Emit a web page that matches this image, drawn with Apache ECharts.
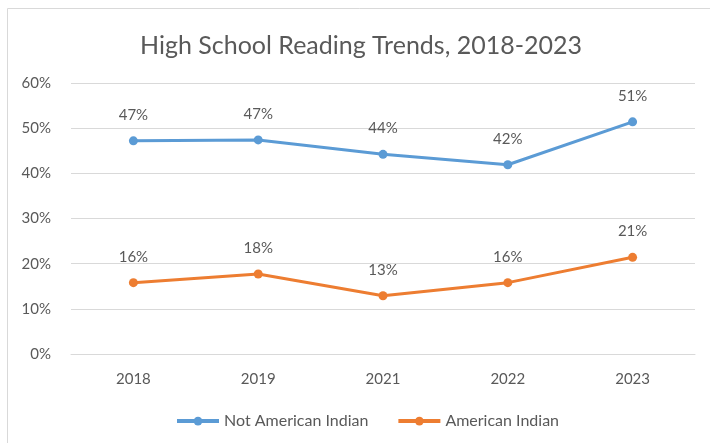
<html>
<head>
    <script src="https://cdn.jsdelivr.net/npm/echarts@6/dist/echarts.min.js"></script>
</head>
<style>
    body {
        margin: 0;
        background: #fff;
    }

    #chart {
        width: 710px;
        height: 443px;
    }
</style>
<body>
    <div id="chart"></div>
    <script>
        const years = ['2018', '2019', '2021', '2022', '2023']
        const notAmericanIndian = [47.2, 47.4, 44.2, 41.9, 51.4]
        const americanIndian = [15.8, 17.7, 12.9, 15.8, 21.4]
        const seriesNames = ['Not American Indian', 'American Indian']

        const font = 'Lato, "Open Sans", sans-serif'
        const grey = '#595959'

        function makeSeries(name, data, color) {
            return {
                name: name,
                type: 'line',
                data: data,
                symbol: 'circle',
                symbolSize: 9,
                lineStyle: { color: color, width: 3 },
                itemStyle: { color: color },
                label: {
                    show: true,
                    position: 'top',
                    distance: 10,
                    color: grey,
                    fontFamily: font,
                    fontSize: 15,
                    formatter: function (p) { return Math.round(p.value) + '%' }
                }
            }
        }

        const myChart = echarts.init(document.getElementById('chart'))
        myChart.setOption({
            animation: false,
            title: {
                text: 'High School Reading Trends, 2018-2023',
                left: 135,
                top: 22,
                textStyle: { color: grey, fontFamily: font, fontSize: 25, fontWeight: 'normal' }
            },
            graphic: [{
                type: 'rect',
                shape: { x: 7.5, y: 8.5, width: 800, height: 800 },
                style: { fill: 'none', stroke: '#d9d9d9', lineWidth: 1 }
            }],
            legend: {
                data: seriesNames,
                left: 170,
                top: 404,
                itemWidth: 42,
                itemHeight: 11,
                itemGap: 28,
                itemStyle: { borderWidth: 0 },
                lineStyle: { width: 4 },
                textStyle: { color: grey, fontFamily: font, fontSize: 16 }
            },
            grid: {
                left: 71,
                right: 15,
                top: 83,
                bottom: 89
            },
            xAxis: {
                type: 'category',
                data: years,
                axisLine: { lineStyle: { color: '#d9d9d9' } },
                axisTick: { show: false },
                axisLabel: { color: grey, fontFamily: font, fontSize: 15, margin: 14 }
            },
            yAxis: {
                type: 'value',
                min: 0,
                max: 60,
                interval: 10,
                axisLine: { show: false },
                axisTick: { show: false },
                splitLine: { lineStyle: { color: '#d9d9d9', width: 1 } },
                axisLabel: {
                    color: grey, fontFamily: font, fontSize: 15, margin: 20,
                    formatter: '{value}%'
                }
            },
            series: [
                makeSeries(seriesNames[0], notAmericanIndian, '#5B9BD5'),
                makeSeries(seriesNames[1], americanIndian, '#ED7D31')
            ]
        })
    </script>
</body>
</html>
